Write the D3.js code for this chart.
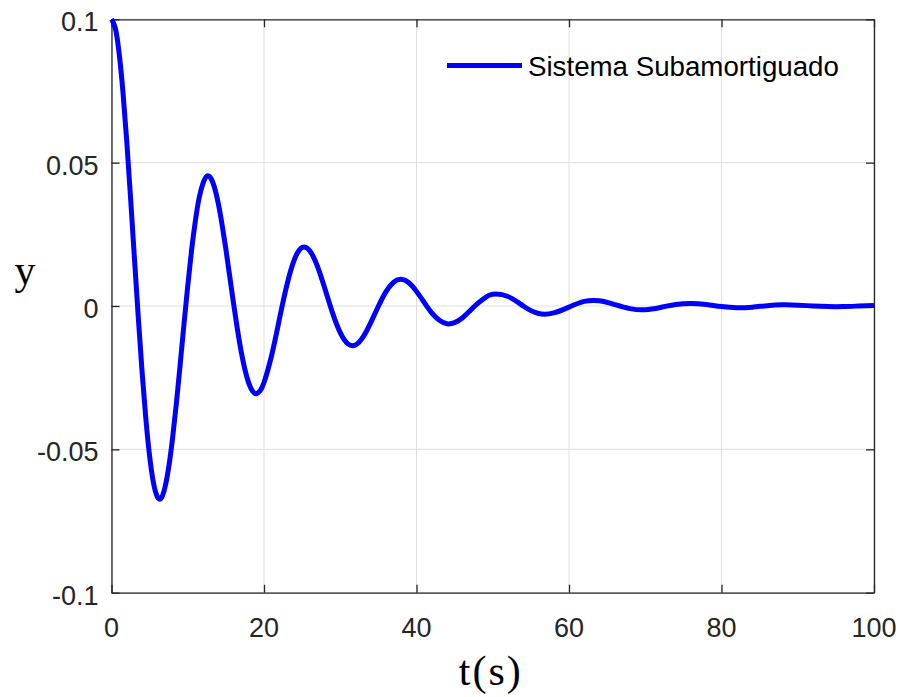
<!DOCTYPE html>
<html>
<head>
<meta charset="utf-8">
<script src="https://cdn.jsdelivr.net/npm/d3@7"></script>
<style>
  html, body { margin: 0; padding: 0; background: #fff; }
  svg { display: block; }
</style>
</head>
<body>
<svg id="chart" width="901" height="697"></svg>
<script>
// Underdamped system response y(t), sampled values
const tValues = [
  0, 0.5, 1, 1.5, 2, 2.5, 3, 3.5, 4, 4.5, 5, 5.5, 6, 6.5, 7, 7.5, 8, 8.5, 9, 9.5,
  10, 10.5, 11, 11.5, 12, 12.5, 13, 13.5, 14, 14.5, 15, 15.5, 16, 16.5, 17, 17.5,
  18, 18.5, 19, 19.5, 20,
  21, 22, 23, 24, 25, 26, 27, 28, 29, 30, 31, 32, 33, 34, 35, 36, 37, 38, 39, 40,
  41, 42, 43, 44, 45, 46, 47, 48, 49, 50, 52, 54, 56, 58, 60, 62, 64, 66, 68, 70,
  72, 74, 76, 78, 80, 82, 84, 86, 88, 90, 92, 94, 96, 98, 100
];
const yValues = [
  0.1, 0.0969, 0.0882, 0.0747, 0.0575, 0.0377, 0.0170, -0.0035, -0.0226, -0.0392,
  -0.0524, -0.0616, -0.0665, -0.0671, -0.0634, -0.0563, -0.0463, -0.0342, -0.0206, -0.0065,
  0.0071, 0.0194, 0.0297, 0.0378, 0.0428, 0.0453, 0.0447, 0.0414, 0.0358, 0.0284,
  0.0198, 0.0104, 0.0010, -0.0079, -0.0158, -0.0222, -0.0269, -0.0297, -0.0306, -0.0295,
  -0.0267,
  -0.0172, -0.0048, 0.0073, 0.0163, 0.0204, 0.0193, 0.0139, 0.0059,
  -0.0025, -0.0093, -0.0132, -0.0136, -0.0108, -0.0058, -0.0001, 0.0050, 0.0083, 0.0093,
  0.0081, 0.0051, 0.0013, -0.0024, -0.0050, -0.0062, -0.0058, -0.0042, -0.0017, 0.0008,
  0.0029, 0.0041, 0.0033, 0.0000, -0.0026, -0.0024, -0.0004, 0.0016, 0.0018, 0.0005,
  -0.0009, -0.0013, -0.0005, 0.0005, 0.0009, 0.0005, -0.0002, -0.0006, -0.0004, 0.0001,
  0.0004, 0.0003, 0.0000, -0.0002, -0.0002, 0.0000, 0.0002
];
const xTicks = [0, 20, 40, 60, 80, 100];
const xTickLabels = ["0", "20", "40", "60", "80", "100"];
const yTicks = [-0.1, -0.05, 0, 0.05, 0.1];
const yTickLabels = ["-0.1", "-0.05", "0", "0.05", "0.1"];
const seriesName = "Sistema Subamortiguado";

const svg = d3.select("#chart");
const plotLeft = 111.5, plotRight = 874, plotTop = 19.3, plotBottom = 592.7;

const x = d3.scaleLinear().domain([0, 100]).range([plotLeft, plotRight]);
const y = d3.scaleLinear().domain([-0.1, 0.1]).range([plotBottom, plotTop]);

const sans = "Liberation Sans, Arial, Helvetica, sans-serif";
const serif = "Liberation Serif, 'Times New Roman', serif";
const axisColor = "#262626";

// grid
const grid = svg.append("g");
grid.selectAll("line.gx").data(xTicks).enter().append("line")
  .attr("x1", d => x(d)).attr("x2", d => x(d))
  .attr("y1", plotTop).attr("y2", plotBottom)
  .attr("stroke", "#dfdfdf").attr("stroke-width", 1);
grid.selectAll("line.gy").data(yTicks).enter().append("line")
  .attr("x1", plotLeft).attr("x2", plotRight)
  .attr("y1", d => y(d)).attr("y2", d => y(d))
  .attr("stroke", "#dfdfdf").attr("stroke-width", 1);

// axes (inward ticks on all four sides)
const tickLen = 8;
const axes = svg.append("g");
axes.append("g").attr("transform", `translate(0,${plotBottom})`)
  .call(d3.axisBottom(x).tickValues(xTicks).tickSizeInner(-tickLen).tickSizeOuter(0).tickFormat(""));
axes.append("g").attr("transform", `translate(0,${plotTop})`)
  .call(d3.axisTop(x).tickValues(xTicks).tickSizeInner(-tickLen).tickSizeOuter(0).tickFormat(""));
axes.append("g").attr("transform", `translate(${plotLeft},0)`)
  .call(d3.axisLeft(y).tickValues(yTicks).tickSizeInner(-tickLen).tickSizeOuter(0).tickFormat(""));
axes.append("g").attr("transform", `translate(${plotRight},0)`)
  .call(d3.axisRight(y).tickValues(yTicks).tickSizeInner(-tickLen).tickSizeOuter(0).tickFormat(""));
axes.selectAll("path.domain").attr("stroke", axisColor).attr("stroke-width", 1.3);
axes.selectAll(".tick line").attr("stroke", axisColor).attr("stroke-width", 1.3);

// tick labels
svg.append("g").selectAll("text").data(xTicks).enter().append("text")
  .attr("x", d => x(d)).attr("y", plotBottom + 44)
  .attr("text-anchor", "middle")
  .attr("font-family", sans).attr("font-size", 27).attr("fill", axisColor)
  .text((d, i) => xTickLabels[i]);
svg.append("g").selectAll("text").data(yTicks).enter().append("text")
  .attr("x", plotLeft - 13).attr("y", d => y(d) + 12)
  .attr("text-anchor", "end")
  .attr("font-family", sans).attr("font-size", 27).attr("fill", axisColor)
  .text((d, i) => yTickLabels[i]);

// axis titles
svg.append("text")
  .attr("x", (plotLeft + plotRight) / 2 - 2).attr("y", 685)
  .attr("text-anchor", "middle")
  .attr("font-family", serif).attr("font-size", 42).attr("fill", "#000")
  .attr("letter-spacing", 2)
  .text("t(s)");
svg.append("text")
  .attr("x", 25).attr("y", 284)
  .attr("text-anchor", "middle")
  .attr("font-family", serif).attr("font-size", 42).attr("fill", "#000")
  .text("y");

// response curve
const pts = tValues.map((t, i) => [t, yValues[i]]);
const line = d3.line()
  .x(d => x(d[0])).y(d => y(d[1]))
  .curve(d3.curveNatural);
svg.append("path")
  .datum(pts)
  .attr("d", line)
  .attr("fill", "none")
  .attr("stroke", "#0000ff")
  .attr("stroke-width", 5)
  .attr("stroke-linejoin", "round");

// legend
const lg = svg.append("g");
lg.append("line")
  .attr("x1", 447).attr("x2", 522).attr("y1", 65.5).attr("y2", 65.5)
  .attr("stroke", "#0000ff").attr("stroke-width", 5);
lg.append("text")
  .attr("x", 528).attr("y", 76)
  .attr("font-family", sans).attr("font-size", 27.7).attr("fill", "#000")
  .text(seriesName);
</script>
</body>
</html>
